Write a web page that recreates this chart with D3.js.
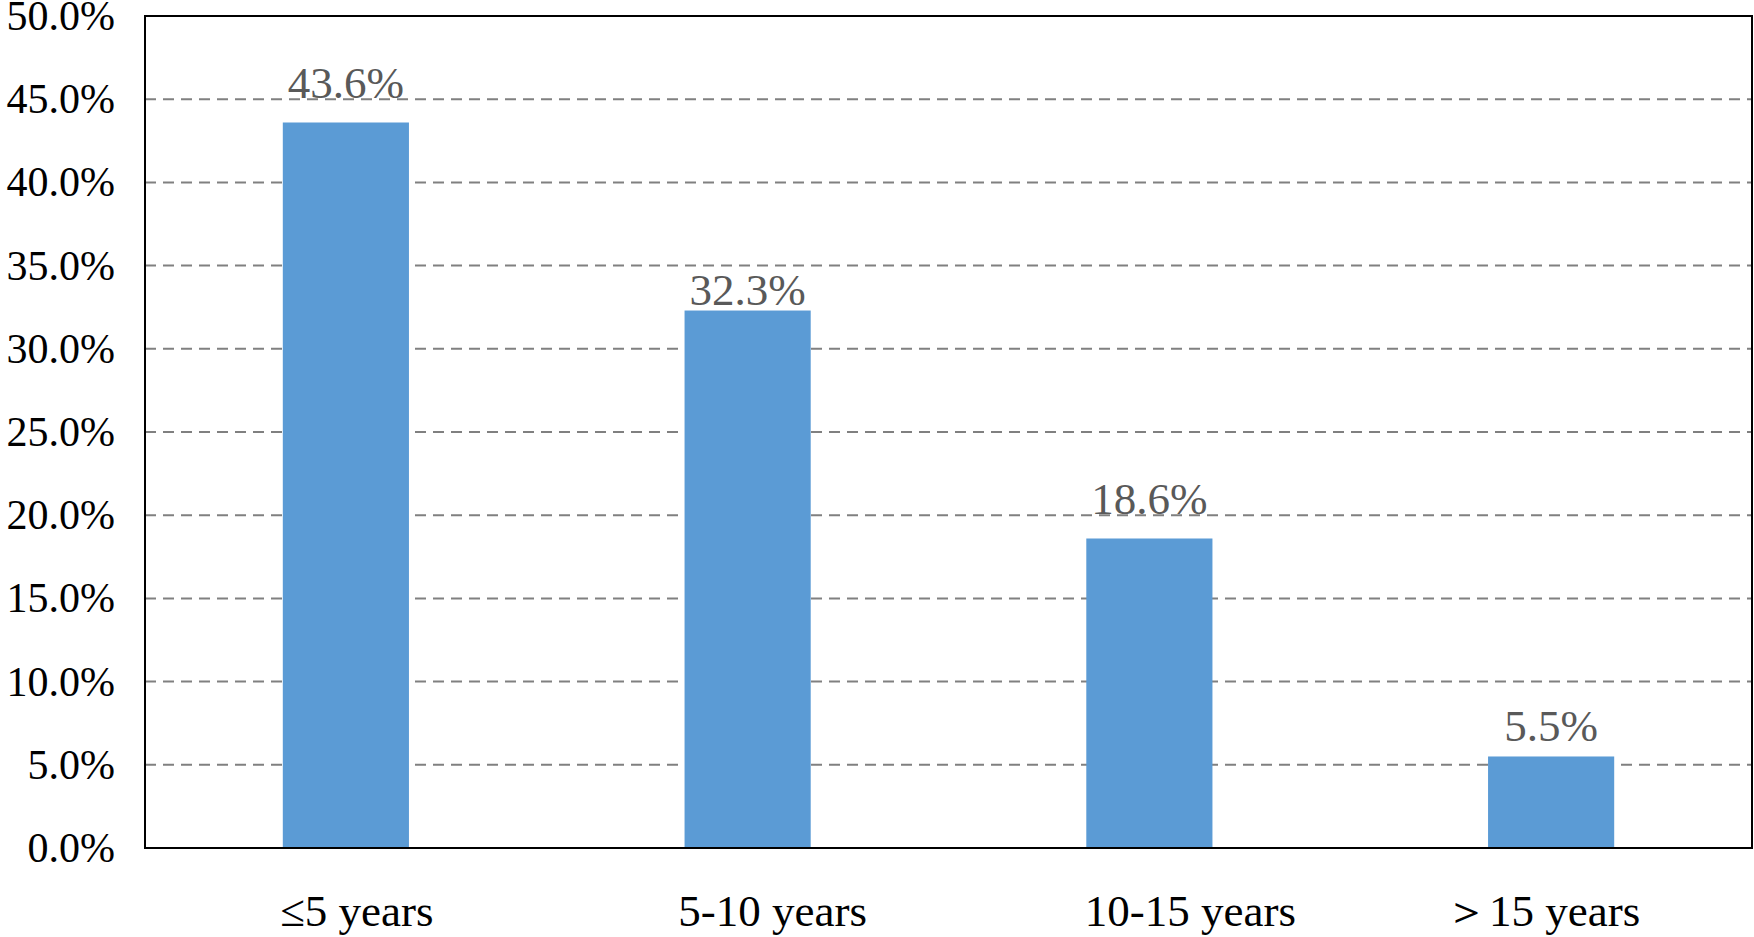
<!DOCTYPE html>
<html><head><meta charset="utf-8">
<script src="https://cdn.jsdelivr.net/npm/d3@7"></script>
<style>html,body{margin:0;padding:0;background:#fff;}</style>
</head><body>
<svg id="chart" width="1754" height="937"></svg>
<script>
const categories = ["≤5 years", "5-10 years", "10-15 years", "＞15 years"];
const values = [43.6, 32.3, 18.6, 5.5];
const yTicks = [0, 5, 10, 15, 20, 25, 30, 35, 40, 45, 50];
const labelLift = [24, 6, 24, 15];
const xLabelShift = [11, 25, 41, -9];

const W = 1754, H = 937;
const m = {left: 145, right: 2, top: 16, bottom: 89};
const svg = d3.select("#chart");
const x = d3.scaleBand().domain(categories).range([m.left, W - m.right]).paddingInner(0.686).paddingOuter(0.343);
const y = d3.scaleLinear().domain([0, 50]).range([H - m.bottom, m.top]);
const font = "'Liberation Serif', 'Times New Roman', serif";

// gridlines
svg.append("g").selectAll("line").data(yTicks.filter(t => t > 0 && t < 50)).join("line")
  .attr("x1", m.left).attr("x2", W - m.right)
  .attr("y1", d => y(d)).attr("y2", d => y(d))
  .attr("stroke", "#808080").attr("stroke-width", 2).attr("stroke-dasharray", "11,7");

// bars
svg.append("g").selectAll("rect").data(values).join("rect")
  .attr("x", (d, i) => x(categories[i])).attr("width", x.bandwidth())
  .attr("y", d => y(d)).attr("height", d => y(0) - y(d))
  .attr("fill", "#5B9BD5");

// data labels
svg.append("g").selectAll("text").data(values).join("text")
  .attr("x", (d, i) => x(categories[i]) + x.bandwidth() / 2)
  .attr("y", (d, i) => y(d) - labelLift[i])
  .attr("text-anchor", "middle").attr("font-family", font).attr("font-size", 45)
  .attr("fill", "#595959").text(d => d.toFixed(1) + "%");

// frame
svg.append("rect").attr("x", m.left).attr("y", m.top)
  .attr("width", W - m.right - m.left).attr("height", H - m.bottom - m.top)
  .attr("fill", "none").attr("stroke", "#000").attr("stroke-width", 2);

// y axis
const ya = svg.append("g").attr("transform", `translate(${m.left},0)`)
  .call(d3.axisLeft(y).tickValues(yTicks).tickSize(0).tickPadding(30).tickFormat(d => d.toFixed(1) + "%"));
ya.select(".domain").remove();
ya.selectAll("text").attr("font-family", font).attr("font-size", 42).attr("fill", "#000");

// x axis
const xa = svg.append("g").attr("transform", `translate(0,${H - m.bottom})`)
  .call(d3.axisBottom(x).tickSize(0).tickPadding(46));
xa.select(".domain").remove();
xa.selectAll("text").attr("font-family", font).attr("font-size", 45).attr("fill", "#000")
  .attr("dx", (d, i) => xLabelShift[i]);
</script>
</body></html>
